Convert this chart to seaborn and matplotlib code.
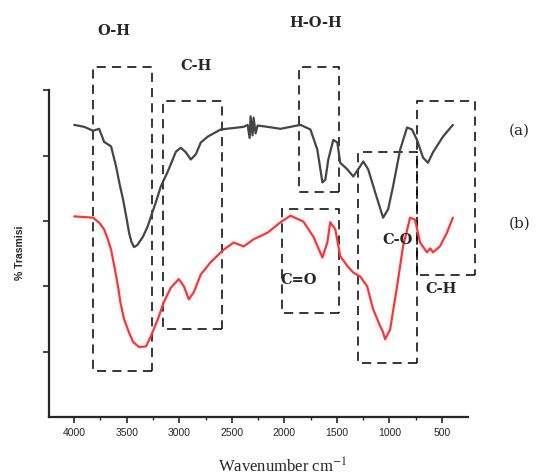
import pandas as pd
import seaborn as sns
import matplotlib.pyplot as plt
from matplotlib.patches import Rectangle
from matplotlib.ticker import MultipleLocator

# wavenumber (cm-1) and transmittance (arbitrary units)
wn_a = [4000, 3905, 3820, 3763, 3715, 3649, 3601, 3570, 3535, 3505, 3478, 3455, 3431, 3400,
        3345, 3300, 3269, 3220, 3175, 3108, 3032, 2985, 2937, 2890, 2842, 2795, 2729, 2605,
        2387, 2349, 2330, 2321, 2302, 2292, 2273, 2254, 2159, 2036, 1846, 1751, 1685, 1637,
        1609, 1581, 1533, 1495, 1467, 1400, 1343, 1296, 1248, 1201, 1135, 1059, 1011, 964,
        897, 831, 784, 736, 679, 632, 584, 489, 395]
tr_a = [4.47, 4.44, 4.38, 4.41, 4.21, 4.14, 3.83, 3.58, 3.33, 3.07, 2.82, 2.68, 2.60, 2.63,
        2.76, 2.92, 3.07, 3.30, 3.53, 3.76, 4.06, 4.12, 4.05, 3.94, 4.02, 4.20, 4.29, 4.40,
        4.44, 4.47, 4.27, 4.60, 4.31, 4.58, 4.34, 4.46, 4.44, 4.41, 4.47, 4.40, 4.09, 3.59,
        3.63, 3.94, 4.24, 4.20, 3.89, 3.79, 3.68, 3.79, 3.91, 3.79, 3.44, 3.05, 3.18, 3.53,
        4.09, 4.43, 4.40, 4.24, 3.97, 3.89, 4.05, 4.29, 4.47]

wn_b = [4000, 3820, 3760, 3715, 3680, 3649, 3615, 3583, 3560, 3526, 3480, 3440, 3383, 3317,
        3269, 3203, 3146, 3080, 3004, 2956, 2909, 2861, 2795, 2700, 2577, 2482, 2387, 2292,
        2159, 2036, 1941, 1818, 1723, 1637, 1590, 1562, 1514, 1467, 1430, 1400, 1370, 1343,
        1277, 1211, 1154, 1087, 1060, 1040, 992, 926, 869, 802, 755, 707, 641, 610, 584, 518,
        451, 395]
tr_b = [3.07, 3.05, 2.97, 2.87, 2.72, 2.56, 2.28, 2.00, 1.75, 1.50, 1.30, 1.15, 1.07, 1.08,
        1.24, 1.50, 1.76, 1.98, 2.11, 2.00, 1.80, 1.91, 2.18, 2.37, 2.56, 2.67, 2.61, 2.72,
        2.82, 2.98, 3.08, 2.99, 2.76, 2.44, 2.67, 2.98, 2.87, 2.46, 2.38, 2.31, 2.26, 2.21,
        2.15, 2.00, 1.65, 1.39, 1.30, 1.19, 1.34, 2.00, 2.61, 3.05, 3.02, 2.67, 2.52, 2.58,
        2.52, 2.61, 2.82, 3.05]

# band boxes: wavenumber span (left, right) and height span (bottom, top)
box_wn = [(3820, 3260), (3156, 2596), (1856, 1476), (2017, 1476), (1296, 736), (736, 186)]
box_y = [(0.70, 5.36), (1.34, 4.84), (3.45, 5.36), (1.59, 3.18), (0.82, 4.05), (2.18, 4.84)]

df = pd.concat([
    pd.DataFrame({"wn": wn_a, "T": tr_a, "s": "a"}),
    pd.DataFrame({"wn": wn_b, "T": tr_b, "s": "b"}),
])

sns.set_style("ticks")
fig = plt.figure(figsize=(5.41, 4.77), dpi=100)
ax = fig.add_axes([0.0906, 0.1237, 0.774, 0.685])

sns.lineplot(data=df, x="wn", y="T", hue="s", palette={"a": "#454545", "b": "#ff3333"},
             estimator=None, sort=True, lw=1.6, legend=False, ax=ax)

# dashed boxes around the bands
for (x0, x1), (y0, y1) in zip(box_wn, box_y):
    r = Rectangle((x1, y0), x0 - x1, y1 - y0, fill=False, ec="black", lw=1.1,
                  ls=(0, (6, 4)), clip_on=False)
    ax.add_patch(r)

ax.set_xlim(4240, 253)
ax.set_ylim(0, 5)
ax.xaxis.set_major_locator(MultipleLocator(500))
ax.xaxis.set_minor_locator(MultipleLocator(250))
ax.set_yticks([1, 2, 3, 4, 5])
ax.set_yticklabels([])
ax.tick_params(axis="both", which="major", length=4, width=1.2, labelsize=7.5, pad=3)
ax.tick_params(axis="x", which="minor", length=2.5, width=1.0)
for lab in ax.get_xticklabels():
    lab.set_family("Liberation Sans")
ax.set_xlabel("")
ax.set_ylabel("")
sns.despine(ax=ax)
for sp in ["left", "bottom"]:
    ax.spines[sp].set_linewidth(1.6)

lbl = dict(fontfamily="DejaVu Serif", fontweight="bold", fontsize=10.5,
           ha="center", va="center", clip_on=False)
ax.text(3620, 5.92, "O-H", **lbl)
ax.text(2842, 5.39, "C-H", **lbl)
ax.text(1704, 6.05, "H-O-H", **lbl)
ax.text(1865, 2.11, "C=O", **lbl)
ax.text(926, 2.72, "C-O", **lbl)
ax.text(509, 1.98, "C-H", **lbl)
ax.text(-241, 4.40, "(a)", fontfamily="DejaVu Serif", fontsize=11, ha="center", va="center")
ax.text(-241, 2.98, "(b)", fontfamily="DejaVu Serif", fontsize=11, ha="center", va="center")

plt.rcParams["mathtext.fontset"] = "stix"
fig.text(0.523, 0.021, "Wavenumber cm$^{-1}$", fontfamily="Liberation Serif", fontsize=12,
         ha="center", va="center")
fig.text(0.037, 0.47, "% Trasmisi", fontfamily="Liberation Sans", fontweight="bold",
         fontsize=7.5, rotation=90, ha="center", va="center")

fig.savefig("out.png", dpi=100)
